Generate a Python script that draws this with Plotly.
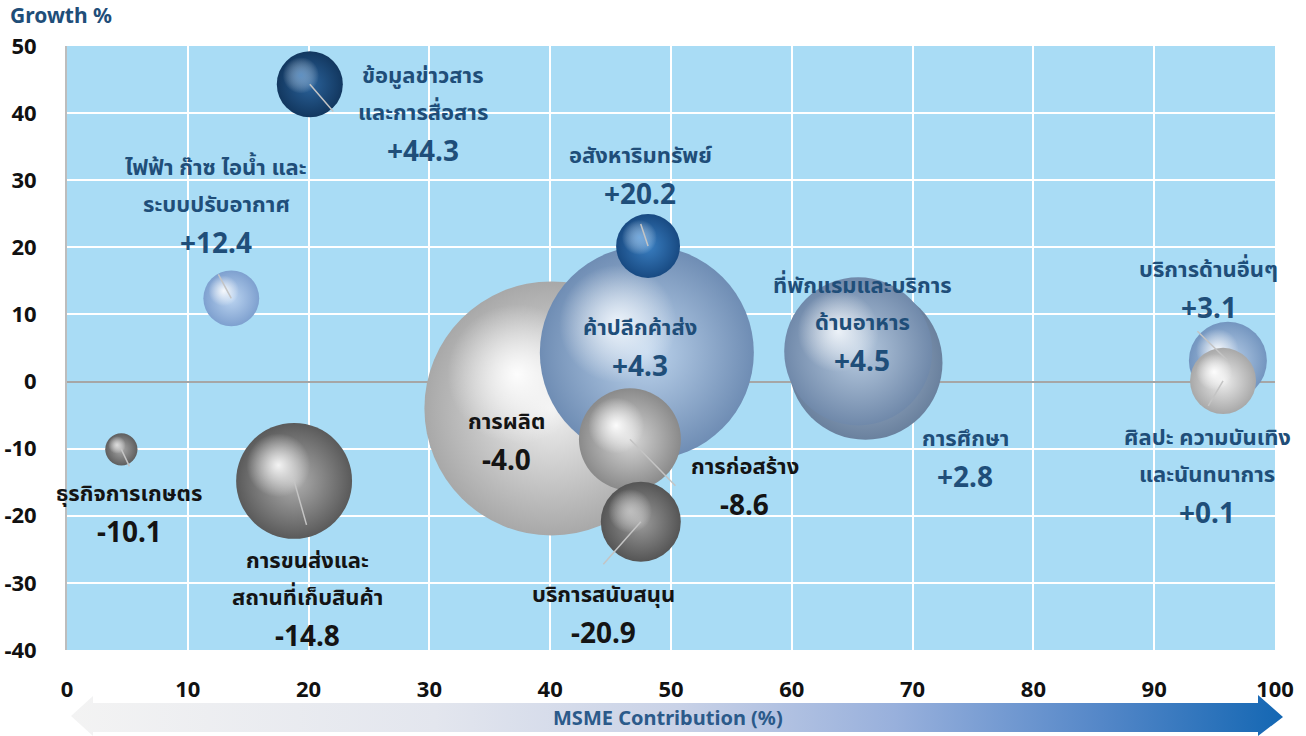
import math
import plotly.graph_objects as go

# ---------------- data ----------------
categories = [
    "การผลิต", "ค้าปลีกค้าส่ง", "อสังหาริมทรัพย์", "การก่อสร้าง", "บริการสนับสนุน",
    "การศึกษา", "ที่พักแรมและบริการด้านอาหาร", "บริการด้านอื่นๆ",
    "ศิลปะ ความบันเทิงและนันทนาการ", "ข้อมูลข่าวสารและการสื่อสาร",
    "ไฟฟ้า ก๊าซ ไอน้ำ และระบบปรับอากาศ", "ธุรกิจการเกษตร", "การขนส่งและสถานที่เก็บสินค้า",
]
msme_contribution = [40.1, 48.0, 48.1, 46.6, 47.5, 66.1, 65.5, 96.1, 95.7, 20.1, 13.6, 4.5, 18.8]
growth = [-4.0, 4.3, 20.2, -8.6, -20.9, 2.8, 4.5, 3.1, 0.1, 44.3, 12.4, -10.1, -14.8]
bubble_weight = [16.13, 11.45, 1.02, 2.60, 1.60, 5.93, 5.48, 1.52, 1.09, 1.09, 0.78, 0.26, 3.36]
label_lines = [
    ["การผลิต"], ["ค้าปลีกค้าส่ง"], ["อสังหาริมทรัพย์"], ["การก่อสร้าง"], ["บริการสนับสนุน"],
    ["การศึกษา"], ["ที่พักแรมและบริการ", "ด้านอาหาร"], ["บริการด้านอื่นๆ"],
    ["ศิลปะ ความบันเทิง", "และนันทนาการ"], ["ข้อมูลข่าวสาร", "และการสื่อสาร"],
    ["ไฟฟ้า ก๊าซ ไอน้ำ และ", "ระบบปรับอากาศ"], ["ธุรกิจการเกษตร"], ["การขนส่งและ", "สถานที่เก็บสินค้า"],
]
x_ticks = [0, 10, 20, 30, 40, 50, 60, 70, 80, 90, 100]
y_ticks = [-40, -30, -20, -10, 0, 10, 20, 30, 40, 50]

# ---------------- styles ----------------
# (rim colour, body colour, highlight colour) of each sphere
sphere_colors = [
    ("#a8a8a8", "#f0f0f0", "rgba(255,255,255,0.95)"),
    ("#6f8db4", "#bcd3ec", "rgba(245,250,255,0.9)"),
    ("#184a82", "#3a7fc2", "rgba(140,190,238,0.75)"),
    ("#8a8a8a", "#d8d8d8", "rgba(255,255,255,0.95)"),
    ("#555555", "#9c9c9c", "rgba(210,210,210,0.75)"),
    ("#6a819e", "#aec0d6", "rgba(240,245,250,0.8)"),
    ("#7089aa", "#b8cbe0", "rgba(245,249,253,0.9)"),
    ("#7395bf", "#bcd2eb", "rgba(255,255,255,0.9)"),
    ("#a8a8a8", "#eeeeee", "rgba(255,255,255,0.95)"),
    ("#12375f", "#2b639b", "rgba(115,165,215,0.75)"),
    ("#7ea0cf", "#bcd5f1", "rgba(255,255,255,0.9)"),
    ("#5e5e5e", "#a8a8a8", "rgba(235,235,235,0.85)"),
    ("#5a5a5a", "#b0b0b0", "rgba(255,255,255,0.9)"),
]
# label offset (px) of first line centre from bubble centre
label_offset = [(-45, 12), (-7, -27), (-8, -92), (115, 26), (-37, 71), (100, 74), (4, -67),
                (-19, -93), (-16, 55), (113, -10), (-15, -132), (8, 43), (13, 78)]
# leader line end offset (px) from bubble centre, None = no line
leader = [None, None, (-8, -24), (47, 48), (-39, 44), None, None, (-32, -31), (-16, 27),
          (25, 29), (-14, -26), (9, 19), (13, 46)]

FONT = "Noto Sans, Noto Sans Thai, Tahoma, sans-serif"
POS_COLOR = "#1f4e79"
NEG_COLOR = "#141414"
LINE_GAP = 37
VALUE_GAP = 39

W, H = 1306, 736
ML, MR, MT, MB = 60, 20, 46, 0
plot_w = W - ML - MR
plot_h = H - MT - MB
x0_px, x1_px = 67, 1275
y_bottom_px = 650
X_RANGE = [0, 100]
Y_RANGE = [-40, 50]
px_per_x = (x1_px - x0_px) / (X_RANGE[1] - X_RANGE[0])
px_per_y = (y_bottom_px - MT) / (Y_RANGE[1] - Y_RANGE[0])

HL_SCALE = 0.55     # highlight radius / sphere radius
HL_SHIFT = 0.27     # highlight offset (towards upper-left) / sphere radius

fig = go.Figure()

max_d = 254
sizeref = 2 * max(bubble_weight) / max_d ** 2

for i, cat in enumerate(categories):
    rim, body, hl = sphere_colors[i]
    xv, yv, wv = msme_contribution[i], growth[i], bubble_weight[i]
    fig.add_trace(go.Scatter(
        x=[xv], y=[yv], mode="markers",
        marker=dict(size=[wv], sizemode="area", sizeref=sizeref, color=rim, opacity=1,
                    gradient=dict(type="radial", color=body), line=dict(width=0)),
        hovertext=[cat], hoverinfo="text+x+y", cliponaxis=False, showlegend=False,
    ))
    r_px = math.sqrt(wv / (2 * sizeref))
    fig.add_trace(go.Scatter(
        x=[xv - HL_SHIFT * r_px / px_per_x], y=[yv + HL_SHIFT * r_px / px_per_y],
        mode="markers",
        marker=dict(size=[wv * HL_SCALE ** 2], sizemode="area", sizeref=sizeref,
                    color="rgba(255,255,255,0)", opacity=1,
                    gradient=dict(type="radial", color=hl), line=dict(width=0)),
        hoverinfo="skip", cliponaxis=False, showlegend=False,
    ))

annotations = []
for i, cat in enumerate(categories):
    xv, yv = msme_contribution[i], growth[i]
    col = POS_COLOR if yv >= 0 else NEG_COLOR
    if leader[i] is not None:
        ax, ay = leader[i]
        annotations.append(dict(
            x=xv, y=yv, xref="x", yref="y", text=" ", font=dict(size=1),
            showarrow=True, arrowhead=0, arrowwidth=1.5, arrowcolor="#c4c4c4",
            ax=ax, ay=ay, standoff=0, startstandoff=0,
        ))
    dx, dy = label_offset[i]
    lines = label_lines[i]
    for k, ln in enumerate(lines):
        annotations.append(dict(
            x=xv, y=yv, xref="x", yref="y", text=f"<b>{ln}</b>", showarrow=False,
            xshift=dx, yshift=-(dy + k * LINE_GAP), xanchor="center", yanchor="middle",
            font=dict(family=FONT, size=22, color=col),
        ))
    sign = "+" if yv >= 0 else ""
    annotations.append(dict(
        x=xv, y=yv, xref="x", yref="y", text=f"<b>{sign}{yv:.1f}</b>", showarrow=False,
        xshift=dx, yshift=-(dy + (len(lines) - 1) * LINE_GAP + VALUE_GAP),
        xanchor="center", yanchor="middle",
        font=dict(family=FONT, size=28, color=col),
    ))

# Growth % title
annotations.append(dict(
    x=(8 - ML) / plot_w, y=1 + (MT - 15) / plot_h, xref="paper", yref="paper",
    text="<b>Growth %</b>", showarrow=False, xanchor="left", yanchor="middle",
    font=dict(family=FONT, size=21, color=POS_COLOR),
))

# gradient arrow (pixel-space helper axes)
arrow_x = [71, 93, 93, 1258, 1258, 1283, 1258, 1258, 93, 93, 71]
arrow_y = [20, 40, 33, 33, 41, 19, 0, 4, 4, 0, 20]
fig.add_trace(go.Scatter(
    x=arrow_x, y=arrow_y, xaxis="x2", yaxis="y2", mode="lines",
    line=dict(width=0, color="rgba(0,0,0,0)"), fill="toself",
    fillgradient=dict(type="horizontal", colorscale=[
        [0, "#f3f3f3"], [0.3, "#e3e6ee"], [0.5, "#c9d2e7"], [0.68, "#98b0dc"],
        [0.85, "#5487c8"], [1, "#1467b3"]]),
    hoverinfo="skip", showlegend=False,
))
annotations.append(dict(
    x=668, y=19, xref="x2", yref="y2", text="<b>MSME Contribution (%)</b>", showarrow=False,
    xanchor="center", yanchor="middle", font=dict(family=FONT, size=20, color="#2b5a8a"),
))

fig.update_layout(
    width=W, height=H,
    margin=dict(l=ML, r=MR, t=MT, b=MB, pad=0),
    paper_bgcolor="white", plot_bgcolor="white",
    font=dict(family=FONT, color="#111111"),
    annotations=annotations,
    shapes=[dict(type="rect", xref="x domain", yref="y domain", x0=0, x1=1, y0=0, y1=1,
                 fillcolor="#a9dcf5", line=dict(width=0), layer="below")],
    xaxis=dict(
        domain=[(x0_px - ML) / plot_w, (x1_px - ML) / plot_w],
        range=X_RANGE, tickvals=x_ticks, ticktext=[f"<b>{t}</b>" for t in x_ticks],
        showgrid=True, gridcolor="#ffffff", gridwidth=1.5, zeroline=False,
        showline=False, ticks="", ticklabelstandoff=24, automargin=False,
        tickfont=dict(family=FONT, size=22, color="#111111"), fixedrange=True,
    ),
    yaxis=dict(
        domain=[(H - y_bottom_px) / plot_h, 1],
        range=Y_RANGE, tickvals=y_ticks, ticktext=[f"<b>{t}</b>" for t in y_ticks],
        showgrid=True, gridcolor="#ffffff", gridwidth=1.5,
        zeroline=True, zerolinecolor="#a6a6a6", zerolinewidth=2,
        showline=True, linecolor="#bdbdbd", linewidth=2, ticks="", ticklabelstandoff=24,
        automargin=False,
        tickfont=dict(family=FONT, size=22, color="#111111"), fixedrange=True,
    ),
    xaxis2=dict(domain=[0, 1], range=[ML, W - MR], visible=False, fixedrange=True, anchor="y2"),
    yaxis2=dict(domain=[0, (H - y_bottom_px) / plot_h], range=[0, H - y_bottom_px],
                visible=False, fixedrange=True, anchor="x2"),
)

fig.write_html(
    "out.html",
    config={"displayModeBar": False},
    post_script="document.body.style.margin='0';document.body.style.overflow='hidden';",
)
